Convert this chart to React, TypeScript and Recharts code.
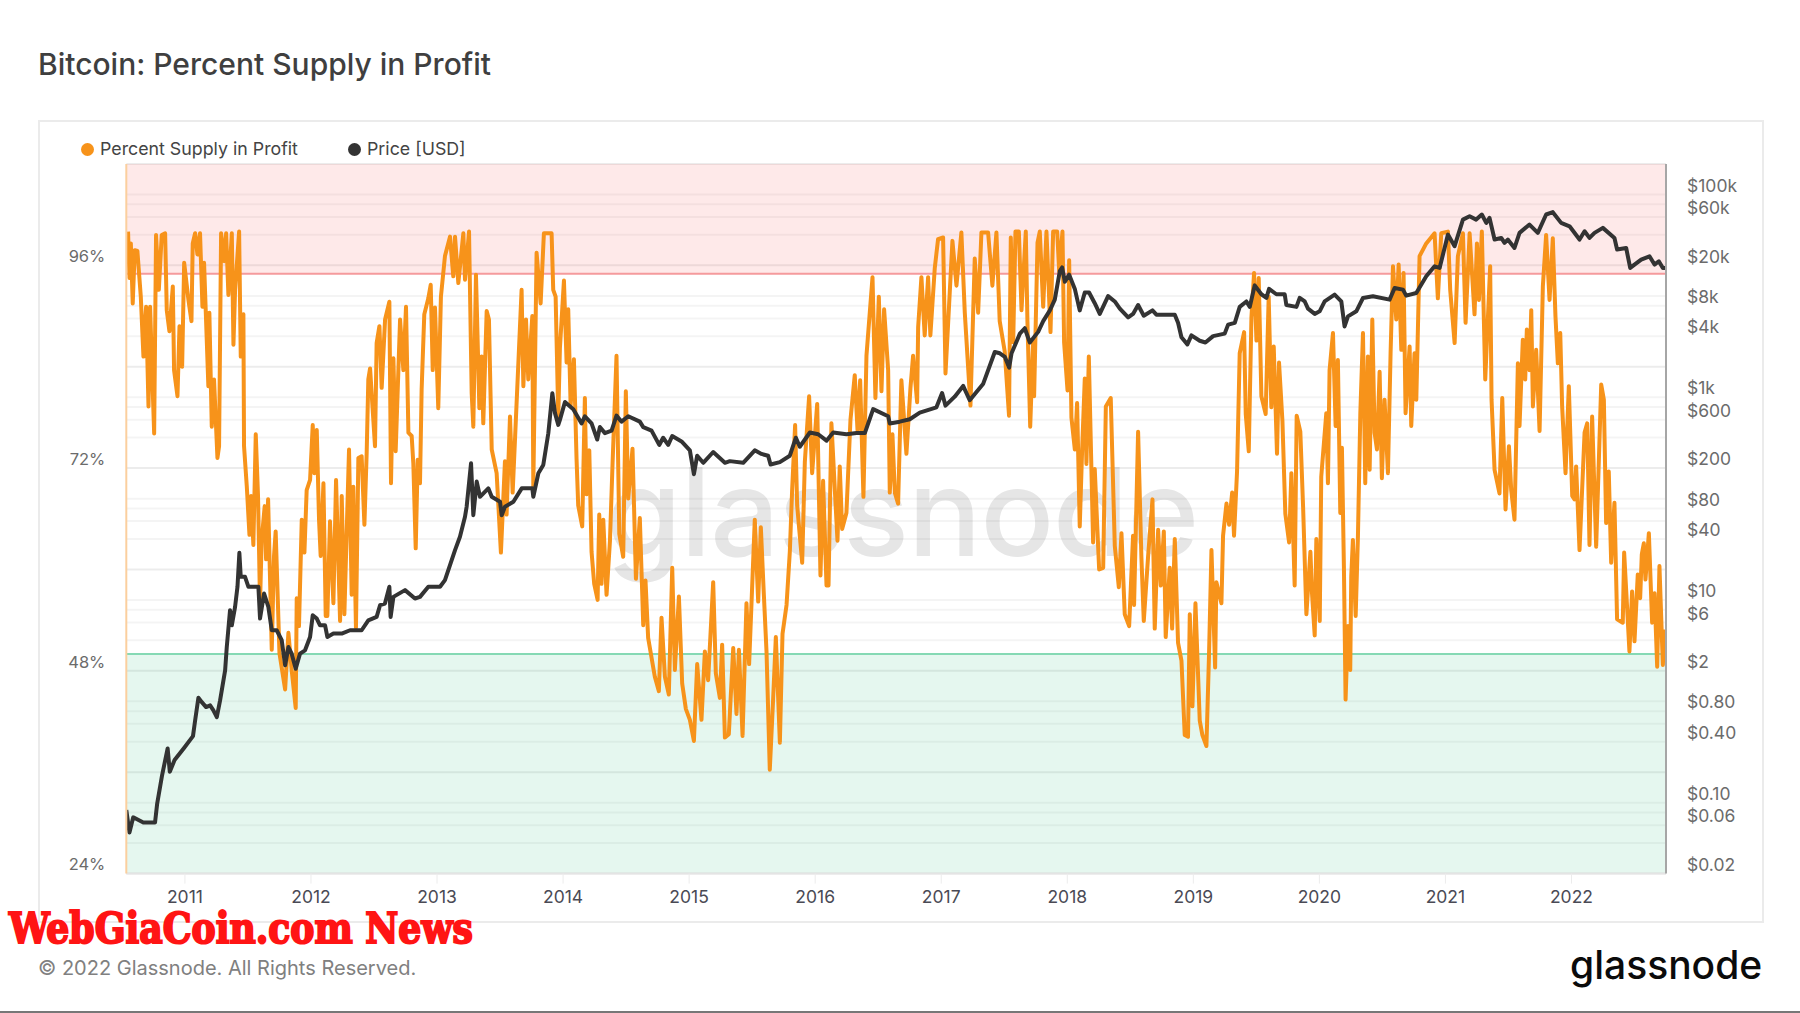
import { LineChart, Line, XAxis, YAxis, CartesianGrid, ReferenceArea, ReferenceLine, Legend } from 'recharts';

// [year, percent]
const supply2010to2011 = [
    [2010.549,100],[2010.56,94.5],[2010.571,98.6],[2010.586,91.5],[2010.602,97.8],[2010.623,97.7],[2010.65,92.3],[2010.671,85.2],[2010.692,91.1],[2010.711,79.3],[2010.724,91.1],[2010.737,84.8],[2010.756,76.1],[2010.771,99.6],[2010.793,93.1],[2010.816,99.6],[2010.843,99.8],[2010.856,90.7],[2010.877,88.2],[2010.904,93.5],[2010.914,83.6],[2010.941,80.5],[2010.957,88.8],[2010.978,84],[2010.994,96.3],
    [2011.028,91.9],[2011.052,89.4],[2011.062,98.6],[2011.081,99.8],[2011.099,97.3],[2011.12,99.8],[2011.139,91.1],[2011.152,96.3],[2011.186,81.7],[2011.194,90.4],[2011.213,76.9],[2011.231,82.5],[2011.258,73.2],[2011.271,74.6],[2011.287,99.8],[2011.311,96.5],[2011.327,99.8],[2011.345,92.5],[2011.372,99.8],[2011.385,86.6],[2011.398,93.1],[2011.43,100],[2011.443,85.2],[2011.464,90.2],[2011.469,74.6],[2011.491,69.8],[2011.512,64.1],[2011.525,68.7],[2011.543,62.9],[2011.562,76],[2011.58,68.7],[2011.596,56],[2011.609,63.5],[2011.633,67.5],[2011.644,61.2],[2011.66,68.3],[2011.689,50.5],[2011.707,61.6],[2011.72,64.5],[2011.75,50.1],[2011.795,45.8],[2011.821,52.5],[2011.847,48.1],[2011.879,43.6],[2011.887,56.6],[2011.905,53.3],[2011.927,65.9],[2011.948,62],[2011.966,69.4],[2011.993,70.6],
];
const supply2012to2013 = [
    [2012.014,77.1],[2012.027,71.4],[2012.046,76.5],[2012.064,65.9],[2012.077,61.6],[2012.099,70.2],[2012.117,54.5],[2012.13,54.5],[2012.151,65.7],[2012.178,56],[2012.199,70.6],[2012.231,53.9],[2012.244,68.7],[2012.265,54.7],[2012.302,74.2],[2012.323,57],[2012.336,69.8],[2012.357,53.1],[2012.376,73.2],[2012.402,73.4],[2012.424,65.3],[2012.442,73.8],[2012.455,82.5],[2012.469,83.8],[2012.508,74.6],[2012.521,86.8],[2012.543,88.8],[2012.561,81.5],[2012.588,89.6],[2012.622,91.7],[2012.635,70.2],[2012.654,85],[2012.672,74],[2012.707,89.6],[2012.733,83.6],[2012.754,91.1],[2012.773,76.2],[2012.799,75.8],[2012.812,72.6],[2012.831,62.5],[2012.847,73],[2012.865,70.2],[2012.878,81.3],[2012.899,90.2],[2012.931,92.1],[2012.95,93.7],[2012.966,83.6],[2012.984,91],
    [2013.01,79.1],[2013.031,92.3],[2013.063,97.1],[2013.103,99.4],[2013.129,94.7],[2013.143,99.4],[2013.169,93.9],[2013.209,99.8],[2013.222,94.3],[2013.254,100],[2013.275,80.9],[2013.288,76.9],[2013.309,94.9],[2013.336,79.1],[2013.354,85.2],[2013.367,77.3],[2013.394,90.6],[2013.412,89.6],[2013.434,74.2],[2013.473,71.4],[2013.507,62],[2013.539,72.8],[2013.552,66.5],[2013.579,78.1],[2013.6,69.1],[2013.671,93.1],[2013.685,81.7],[2013.706,89.6],[2013.724,82.5],[2013.756,90],[2013.764,69.8],[2013.79,97.5],[2013.822,91.5],[2013.848,99.8],[2013.909,99.8],[2013.922,93.1],[2013.941,92.3],[2013.962,78.1],[2013.975,86.2],
];
const supply2014to2015 = [
    [2014.007,94.2],[2014.028,84.5],[2014.041,90.8],[2014.06,79.4],[2014.086,84.9],[2014.107,73.1],[2014.12,67.6],[2014.152,65.1],[2014.173,80.3],[2014.186,68.9],[2014.208,74.1],[2014.226,62.1],[2014.247,58.3],[2014.274,56.4],[2014.287,66.5],[2014.305,58.3],[2014.319,65.9],[2014.345,57],[2014.372,63.4],[2014.393,72.7],[2014.424,85.3],[2014.446,64.2],[2014.477,61.5],[2014.498,81.1],[2014.517,68.4],[2014.551,74.3],[2014.578,58.9],[2014.609,66.1],[2014.636,53.4],[2014.654,58.7],[2014.675,51.9],[2014.728,47.3],[2014.76,45.6],[2014.781,54.3],[2014.808,47.3],[2014.839,45.2],[2014.866,60.2],[2014.887,48.1],[2014.919,56.8],[2014.945,46.5],[2014.974,43.5],
    [2015.006,42.2],[2015.038,39.7],[2015.064,48.8],[2015.098,42.2],[2015.125,50.3],[2015.151,46.9],[2015.191,58.5],[2015.212,47.7],[2015.244,44.8],[2015.262,51.1],[2015.284,40.1],[2015.315,40.5],[2015.35,50.7],[2015.376,42.9],[2015.395,50.5],[2015.424,40.3],[2015.455,56],[2015.476,48.8],[2015.521,65.9],[2015.548,56.2],[2015.569,65],[2015.593,57],[2015.614,50.3],[2015.64,36.3],[2015.667,44.8],[2015.688,52],[2015.72,39.5],[2015.741,52.4],[2015.773,55.8],[2015.799,62.1],[2015.817,69.3],[2015.841,77.1],[2015.857,67.6],[2015.897,60.8],[2015.918,72.7],[2015.952,80.5],[2015.976,71.4],
];
const supply2016to2017 = [
    [2016.016,79.6],[2016.042,59.3],[2016.063,70.5],[2016.09,58.1],[2016.106,58.1],[2016.129,77.3],[2016.177,63.4],[2016.195,72.2],[2016.214,64.8],[2016.248,66.7],[2016.28,77.7],[2016.314,83],[2016.336,76.5],[2016.357,82.4],[2016.383,68.6],[2016.407,85.3],[2016.455,94.6],[2016.478,80.3],[2016.505,92.3],[2016.526,81.1],[2016.547,90.8],[2016.579,83.6],[2016.592,69.1],[2016.613,76],[2016.632,69.1],[2016.658,67.8],[2016.684,82.4],[2016.724,73.7],[2016.756,81.5],[2016.777,85.3],[2016.809,79.8],[2016.817,88.7],[2016.843,94.6],[2016.869,87.7],[2016.896,94.6],[2016.914,87.7],[2016.949,95.7],[2016.975,99.1],
    [2017.015,99.3],[2017.034,83.2],[2017.068,92.9],[2017.089,98.9],[2017.121,93.6],[2017.16,99.9],[2017.187,90.4],[2017.232,79.4],[2017.266,96.8],[2017.293,90.4],[2017.319,99.9],[2017.372,99.9],[2017.406,93.6],[2017.438,99.9],[2017.464,89.4],[2017.504,85.8],[2017.538,78.2],[2017.552,99.3],[2017.571,86.9],[2017.589,100],[2017.616,100],[2017.637,90.7],[2017.671,100],[2017.684,89.4],[2017.706,76.9],[2017.729,86.9],[2017.737,80.5],[2017.764,98.7],[2017.782,100],[2017.809,91.1],[2017.835,100],[2017.867,88.1],[2017.888,100],[2017.92,100],[2017.936,95.3],[2017.962,100],[2017.975,86.9],
];
const supply2018to2019 = [
    [2018.002,81.2],[2018.015,96.6],[2018.033,78],[2018.06,74.2],[2018.078,79.7],[2018.099,65.1],[2018.118,74.2],[2018.139,82.6],[2018.152,72.5],[2018.171,85.2],[2018.205,63.2],[2018.218,71.9],[2018.253,60],[2018.285,60.2],[2018.306,79.3],[2018.345,80.3],[2018.377,62.8],[2018.409,57.9],[2018.43,64.3],[2018.456,54.7],[2018.491,53.3],[2018.522,64],[2018.53,55.8],[2018.562,76.3],[2018.588,61.5],[2018.607,53.9],[2018.641,61.5],[2018.676,68.3],[2018.694,53],[2018.721,64.7],[2018.742,58.1],[2018.766,64.5],[2018.781,52],[2018.813,60.2],[2018.832,53],[2018.853,63.6],[2018.879,51.3],[2018.906,49.2],[2018.932,40.4],[2018.958,40.2],[2018.972,54.7],[2018.993,43.8],
    [2019.017,56],[2019.051,42.1],[2019.072,40.4],[2019.104,39.1],[2019.125,50.1],[2019.144,62.3],[2019.173,48.4],[2019.183,58.5],[2019.223,56],[2019.236,64],[2019.263,67.8],[2019.284,65.3],[2019.308,69.1],[2019.323,64],[2019.347,71.6],[2019.368,85.6],[2019.403,88.1],[2019.416,78.4],[2019.44,74],[2019.461,89.8],[2019.482,95.1],[2019.501,87.1],[2019.519,94.5],[2019.54,80.5],[2019.574,78.4],[2019.598,92.3],[2019.619,79.2],[2019.638,86.4],[2019.664,73.7],[2019.68,84.5],[2019.707,77.6],[2019.73,66.6],[2019.76,63.2],[2019.778,71.4],[2019.804,58.1],[2019.82,78.2],[2019.849,76.3],[2019.871,67.4],[2019.897,54.7],[2019.929,62.1],[2019.942,57.1],[2019.963,52.2],[2019.976,63.6],
];
const supply2020to2022 = [
    [2020.003,53.9],[2020.015,71],[2020.055,78.5],[2020.068,70.2],[2020.081,83.6],[2020.108,88],[2020.129,77],[2020.147,84.8],[2020.166,66.7],[2020.179,74.4],[2020.195,60],[2020.208,44.6],[2020.227,53.3],[2020.245,48.1],[2020.253,59.2],[2020.266,63.5],[2020.288,54.5],[2020.306,63.9],[2020.325,78.5],[2020.346,88],[2020.364,70.2],[2020.385,85.2],[2020.399,71.8],[2020.42,89.6],[2020.438,76.2],[2020.457,74.2],[2020.478,83.4],[2020.496,70.8],[2020.517,80.1],[2020.544,71.4],[2020.565,85.6],[2020.584,95.9],[2020.61,89.6],[2020.629,96.1],[2020.65,86],[2020.668,95.1],[2020.684,78.5],[2020.716,86.4],[2020.729,77],[2020.755,85.6],[2020.769,80.1],[2020.795,97.1],[2020.848,98.6],[2020.914,99.8],[2020.94,92.1],[2020.967,99.8],
    [2021.02,100],[2021.038,93.1],[2021.073,86.8],[2021.099,97.1],[2021.139,99.8],[2021.16,89.2],[2021.192,99.8],[2021.231,90.2],[2021.25,98.6],[2021.266,91.9],[2021.289,100],[2021.316,82.5],[2021.355,95.9],[2021.366,80.1],[2021.39,71.8],[2021.429,69],[2021.451,80.3],[2021.477,67.1],[2021.504,74.6],[2021.522,69.4],[2021.548,65.9],[2021.575,84.4],[2021.588,77],[2021.614,87.2],[2021.633,82.5],[2021.646,88.4],[2021.667,83.6],[2021.681,90.7],[2021.694,79.3],[2021.72,86],[2021.747,76.4],[2021.773,93.5],[2021.799,99.6],[2021.826,91.9],[2021.852,99.2],[2021.873,90],[2021.892,84.4],[2021.911,88],[2021.926,79.3],[2021.953,71.4],[2021.979,81.7],
    [2022.006,68.7],[2022.024,68.3],[2022.037,72.2],[2022.064,62.3],[2022.104,76.2],[2022.125,77.3],[2022.143,62.9],[2022.164,78.1],[2022.196,62.7],[2022.236,81.9],[2022.257,80.1],[2022.275,65.5],[2022.296,71.6],[2022.315,60.8],[2022.341,67.9],[2022.362,54.1],[2022.407,53.7],[2022.418,62],[2022.46,50.3],[2022.481,57.4],[2022.5,51.5],[2022.526,59.4],[2022.545,56.6],[2022.558,61.8],[2022.574,63.1],[2022.587,58.8],[2022.614,64.3],[2022.64,53.7],[2022.659,57.2],[2022.68,48.5],[2022.698,60.4],[2022.725,48.7],[2022.738,52.9],
];

// [year, usd]
const price2010to2013 = [
    [2010.535,0.069],[2010.56,0.0415],[2010.59,0.0585],[2010.67,0.052],[2010.763,0.052],[2010.78,0.08],[2010.818,0.15],[2010.863,0.28],[2010.88,0.165],[2010.918,0.215],[2010.99,0.28],[2011.064,0.37],[2011.081,0.528],[2011.107,0.885],[2011.134,0.8],[2011.168,0.716],[2011.2,0.744],[2011.226,0.664],[2011.253,0.57],[2011.279,0.833],[2011.319,1.65],[2011.332,2.8],[2011.358,6.46],[2011.372,4.59],[2011.398,6.97],[2011.417,11],[2011.432,23.8],[2011.443,13.8],[2011.477,13.8],[2011.504,11],[2011.543,11],[2011.583,11],[2011.596,5.35],[2011.628,9.44],[2011.662,6.97],[2011.689,4.1],[2011.728,4.1],[2011.768,3.27],[2011.795,1.85],[2011.821,2.8],[2011.847,2.41],[2011.879,1.71],[2011.913,2.41],[2011.953,2.6],[2011.993,3.52],
    [2012.014,5.77],[2012.046,5.35],[2012.072,4.59],[2012.112,4.59],[2012.13,3.52],[2012.178,3.8],[2012.244,3.8],[2012.31,4.1],[2012.402,4.1],[2012.455,5.14],[2012.521,5.55],[2012.548,7.24],[2012.587,7.52],[2012.622,11],[2012.632,5.55],[2012.654,8.75],[2012.746,10.2],[2012.825,8.43],[2012.865,8.75],[2012.931,11],[2013.024,11],[2013.063,12.8],[2013.103,18],[2013.143,25.3],[2013.182,34.3],[2013.222,54],[2013.235,67.8],[2013.27,182],[2013.288,56],[2013.315,120],[2013.341,85],[2013.407,103],[2013.434,85],[2013.5,76],[2013.513,56],[2013.539,67.8],[2013.606,76],[2013.672,103],[2013.756,103],[2013.764,85],[2013.804,145],[2013.843,175],[2013.883,360],[2013.915,893],[2013.936,568],[2013.962,435],[2013.975,488],
];
const price2014to2017 = [
    [2014.015,731],[2014.081,622],[2014.147,450],[2014.173,529],[2014.226,450],[2014.271,312],[2014.292,414],[2014.332,361],[2014.385,382],[2014.424,537],[2014.464,468],[2014.517,529],[2014.609,468],[2014.636,414],[2014.702,382],[2014.763,276],[2014.794,325],[2014.834,276],[2014.866,338],[2014.94,299],[2015.006,244],[2015.038,142],[2015.064,216],[2015.112,184],[2015.191,235],[2015.284,184],[2015.323,191],[2015.429,184],[2015.521,244],[2015.574,225],[2015.627,216],[2015.646,177],[2015.72,187],[2015.799,216],[2015.847,325],[2015.878,265],[2015.958,366],
    [2016.024,352],[2016.09,304],[2016.143,366],[2016.248,352],[2016.328,361],[2016.394,361],[2016.46,622],[2016.579,529],[2016.592,450],[2016.671,468],[2016.751,495],[2016.83,574],[2016.962,648],[2017.007,897],[2017.034,674],[2017.107,826],[2017.174,1054],[2017.226,762],[2017.332,1099],[2017.425,2280],[2017.465,2213],[2017.505,2039],[2017.539,1599],[2017.558,2213],[2017.624,3459],[2017.663,3908],[2017.703,2825],[2017.769,3600],[2017.809,4590],[2017.862,5860],[2017.901,7480],[2017.941,14320],[2017.959,15550],[2017.981,11220],
];
const price2018to2022 = [
    [2018.015,13210],[2018.06,9550],[2018.099,5860],[2018.139,8810],[2018.173,8810],[2018.218,6900],[2018.258,5410],[2018.324,8110],[2018.377,7180],[2018.417,6110],[2018.483,4990],[2018.522,5410],[2018.562,6620],[2018.607,5190],[2018.676,5860],[2018.707,5320],[2018.853,5320],[2018.879,4420],[2018.906,3190],[2018.953,2710],[2018.985,3320],[2019.051,2940],[2019.096,2825],[2019.157,3270],[2019.249,3459],[2019.276,4240],[2019.329,4420],[2019.368,6350],[2019.421,7180],[2019.448,6350],[2019.487,10350],[2019.54,8460],[2019.58,7800],[2019.601,9550],[2019.659,8460],[2019.725,8460],[2019.738,6620],[2019.818,6350],[2019.844,7800],[2019.884,7180],[2019.91,6110],[2019.963,5410],
    [2020.002,5740],[2020.042,7195],[2020.121,8380],[2020.174,7195],[2020.2,4075],[2020.227,5115],[2020.293,5740],[2020.346,7770],[2020.425,8070],[2020.557,7480],[2020.597,9750],[2020.663,9400],[2020.689,8190],[2020.769,8700],[2020.848,12710],[2020.914,15960],[2020.954,15380],[2021.02,32800],[2021.073,25200],[2021.139,46100],[2021.192,49800],[2021.244,46100],[2021.289,51760],[2021.324,42800],[2021.35,47900],[2021.39,29310],[2021.443,30400],[2021.469,27160],[2021.495,29310],[2021.548,24200],[2021.588,34100],[2021.667,41200],[2021.733,34100],[2021.799,51760],[2021.852,54600],[2021.918,42800],[2021.985,39600],
    [2022.064,29310],[2022.104,35400],[2022.143,30400],[2022.183,34100],[2022.249,38200],[2022.341,30400],[2022.362,23350],[2022.434,24200],[2022.466,15380],[2022.5,16600],[2022.553,18580],[2022.619,20040],[2022.659,16600],[2022.693,17900],[2022.725,15380],[2022.746,15380],
];

const yearTicks = [2011, 2012, 2013, 2014, 2015, 2016, 2017, 2018, 2019, 2020, 2021, 2022];
const percentTicks = [24, 48, 72, 96];
const priceTicks = [100000, 60000, 20000, 8000, 4000, 1000, 600, 200, 80, 40, 10, 6, 2, 0.8, 0.4, 0.1, 0.06, 0.02];
const gridMajor = [0.0163, 0.163, 1.63, 16.3, 163, 1630, 16300, 163000];
const gridMinor = [
    0.0326, 0.0489, 0.0652, 0.0815, 0.326, 0.489, 0.652, 0.815, 3.26, 4.89, 6.52, 8.15, 32.6, 48.9, 65.2, 81.5,
    326, 489, 652, 815, 3260, 4890, 6520, 8150, 32600, 48900, 65200, 81500,
];

const ORANGE = '#f7931a';
const DARK = '#333333';

const toRows = (pairs: number[][]) => pairs.map(([year, value]) => ({ year, value }));
const supplyData = toRows([...supply2010to2011, ...supply2012to2013, ...supply2014to2015, ...supply2016to2017, ...supply2018to2019, ...supply2020to2022]);
const priceData = toRows([...price2010to2013, ...price2014to2017, ...price2018to2022]);

const formatPrice = (v: number) => {
    if (v >= 1000) return `$${v / 1000}k`;
    if (v >= 1) return `$${v}`;
    return `$${v.toFixed(2)}`;
};

const renderLegend = (props: any) => (
    <div style={{ position: 'relative', height: 24 }}>
        {props.payload.map((item: any, i: number) => (
            <div key={item.value} style={{ position: 'absolute', left: i === 0 ? 0 : 267, top: 0, display: 'flex', alignItems: 'center', whiteSpace: 'nowrap' }}>
                <span style={{ width: 13, height: 13, borderRadius: '50%', background: item.color, marginRight: 6, display: 'inline-block' }} />
                <span style={{ fontSize: 17.8, color: '#444', lineHeight: '24px' }}>{item.value}</span>
            </div>
        ))}
    </div>
);

const App = () => {
    return (
        <div style={{ position: 'absolute', left: 0, top: 0, width: 1800, height: 1013, background: '#fff', overflow: 'hidden', fontFamily: 'Inter' }}>
            <div style={{ position: 'absolute', left: 38, top: 44, fontSize: 30, fontWeight: 500, color: '#3f3f3f', lineHeight: '40px' }}>Bitcoin: Percent Supply in Profit</div>
            <div style={{ position: 'absolute', left: 38, top: 120, width: 1722, height: 799, border: '2px solid #ebebeb' }} />
            <div style={{ position: 'absolute', left: 606, top: 437, fontSize: 122, fontWeight: 500, color: '#e6e6e6', lineHeight: '150px', letterSpacing: -1 }}>glassnode</div>

            <div style={{ position: 'absolute', left: 0, top: 0 }}>
                <LineChart width={1800} height={1013} margin={{ top: 164, right: 34, bottom: 75.4, left: 96.3 }}>
                    <CartesianGrid yAxisId="price" vertical={false} horizontalValues={gridMinor} stroke="rgba(0,0,0,0.045)" strokeWidth={2} />
                    <CartesianGrid yAxisId="price" vertical={false} horizontalValues={gridMajor} stroke="rgba(0,0,0,0.075)" strokeWidth={2} />
                    <XAxis
                        dataKey="year"
                        type="number"
                        domain={[2010.535, 2022.75]}
                        ticks={yearTicks}
                        interval={0}
                        height={40}
                        tickSize={10}
                        tickMargin={7}
                        allowDataOverflow
                        axisLine={{ stroke: '#e4e4e4', strokeWidth: 2 }}
                        tickLine={{ stroke: '#ececec' }}
                        tick={{ fontSize: 17.5, fill: '#4a4a55', fontFamily: 'Inter' }}
                    />
                    <YAxis
                        yAxisId="percent"
                        type="number"
                        domain={[24, 108]}
                        ticks={percentTicks}
                        interval={0}
                        width={30}
                        tickSize={0}
                        tickMargin={21}
                        allowDataOverflow
                        tickFormatter={(v: number) => `${v}%`}
                        axisLine={{ stroke: '#fbcf9e', strokeWidth: 2 }}
                        tick={{ fontSize: 16.5, fill: '#6b6b6b', fontFamily: 'Inter', dy: -9 }}
                    />
                    <YAxis
                        yAxisId="price"
                        orientation="right"
                        type="number"
                        scale="log"
                        domain={[0.0163, 163000]}
                        ticks={priceTicks}
                        interval={0}
                        width={100}
                        tickSize={0}
                        tickMargin={21}
                        allowDataOverflow
                        tickFormatter={formatPrice}
                        axisLine={{ stroke: '#a6a6a6', strokeWidth: 2 }}
                        tick={{ fontSize: 17.5, fill: '#6b6b6b', fontFamily: 'Inter' }}
                    />
                    <ReferenceArea yAxisId="percent" y1={95} y2={108} fill="#f34a4a" fillOpacity={0.12} stroke="none" />
                    <ReferenceArea yAxisId="percent" y1={24} y2={50} fill="#32be82" fillOpacity={0.125} stroke="none" />
                    <ReferenceLine yAxisId="percent" y={95} stroke="#f59a9c" strokeWidth={2} />
                    <ReferenceLine yAxisId="percent" y={50} stroke="#85d9b4" strokeWidth={2} />
                    <Legend
                        content={renderLegend}
                        wrapperStyle={{ position: 'absolute', left: 81, top: 137, width: 500, height: 24, bottom: 'auto' }}
                    />
                    <Line
                        yAxisId="percent"
                        name="Percent Supply in Profit"
                        data={supplyData}
                        dataKey="value"
                        stroke={ORANGE}
                        strokeWidth={4}
                        strokeLinejoin="round"
                        dot={false}
                        legendType="circle"
                        isAnimationActive={false}
                    />
                    <Line
                        yAxisId="price"
                        name="Price [USD]"
                        data={priceData}
                        dataKey="value"
                        stroke={DARK}
                        strokeWidth={4}
                        strokeLinejoin="round"
                        dot={false}
                        legendType="circle"
                        isAnimationActive={false}
                    />
                </LineChart>
            </div>

            <div style={{ position: 'absolute', left: 9, top: 910, fontFamily: 'DejaVu Serif Condensed', fontWeight: 700, fontSize: 43, lineHeight: '36px', color: '#ff1414', WebkitTextStroke: '2px #ff1414', whiteSpace: 'nowrap', transform: 'scaleX(0.935)', transformOrigin: 'left center' }}>WebGiaCoin.com News</div>
            <div style={{ position: 'absolute', left: 38, top: 954, fontSize: 20, color: '#808080', lineHeight: '28px' }}>© 2022 Glassnode. All Rights Reserved.</div>
            <div style={{ position: 'absolute', left: 1570, top: 935, fontSize: 39, fontWeight: 500, color: '#0b0b0b', lineHeight: '60px', letterSpacing: 0 }}>glassnode</div>
            <div style={{ position: 'absolute', left: 0, top: 1011, width: 1800, height: 2, background: '#777' }} />
        </div>
    );
};

export default App;
